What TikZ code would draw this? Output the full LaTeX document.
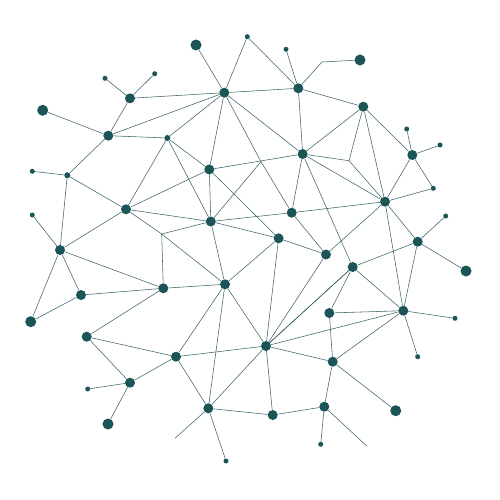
\documentclass[tikz,border=0pt]{standalone}
\usetikzlibrary{backgrounds}
\definecolor{nodecol}{HTML}{1B5557}
\definecolor{linecol}{HTML}{3E6466}
\tikzset{
  x=1pt, y=-1pt,
  dot/.style={circle, fill=nodecol, draw=none, inner sep=0pt, minimum size=10pt},
  bigdot/.style={dot, minimum size=11pt},
  tinydot/.style={dot, minimum size=5pt},
  smalldot/.style={dot, minimum size=6pt},
  link/.style={draw=linecol, line width=0.55pt},
}
\begin{document}
\begin{tikzpicture}
\useasboundingbox (0,0) rectangle (500,500);
\node[bigdot] (A) at (196,45) {};
\node[tinydot] (B) at (247.3,36.7) {};
\node[tinydot] (C) at (286,49.3) {};
\node[bigdot] (D) at (360,60) {};
\node[dot] (E) at (224.3,92.7) {};
\node[dot] (F) at (298.3,88.3) {};
\node[dot] (G) at (130,98.3) {};
\node[tinydot] (H) at (105,78.3) {};
\node[tinydot] (I) at (154.7,73.7) {};
\node[bigdot] (J) at (42.7,110.3) {};
\node[dot] (K) at (108.3,135.7) {};
\node[smalldot] (L) at (167.3,138) {};
\node[dot] (M) at (363.3,106.7) {};
\node[dot] (N) at (302.7,154) {};
\node[dot] (O) at (209.3,169.5) {};
\node[tinydot] (P) at (406.7,129) {};
\node[dot] (Q) at (412.3,155) {};
\node[tinydot] (R) at (440,145) {};
\node[tinydot] (S) at (433.3,188.3) {};
\node[dot] (T) at (385,201.7) {};
\node[tinydot] (U) at (32.3,171.3) {};
\node[smalldot] (V) at (67.3,175.3) {};
\node[dot] (W) at (126,209.3) {};
\node[dot] (X) at (210.8,221.5) {};
\node[dot] (Y) at (291.7,212.7) {};
\node[tinydot] (AB) at (32.3,215) {};
\node[dot] (AC) at (60,250) {};
\node[dot] (AD) at (278.6,238.3) {};
\node[dot] (AE) at (326,254.5) {};
\node[tinydot] (AF) at (445.7,216) {};
\node[dot] (AG) at (417.7,241.7) {};
\node[dot] (AH) at (352.7,267) {};
\node[bigdot] (AI) at (466,271) {};
\node[dot] (AJ) at (81,295) {};
\node[dot] (AK) at (163.3,288.3) {};
\node[dot] (AL) at (225,284.3) {};
\node[bigdot] (AM) at (30.7,321.7) {};
\node[dot] (AN) at (86.7,336.7) {};
\node[dot] (AO) at (329.3,313) {};
\node[dot] (AP) at (403.3,310.7) {};
\node[tinydot] (AQ) at (455,318.3) {};
\node[dot] (AR) at (176,356.7) {};
\node[dot] (AS) at (266,346) {};
\node[tinydot] (AT) at (417.7,356.7) {};
\node[dot] (AU) at (332.7,361.7) {};
\node[tinydot] (AV) at (87.7,389) {};
\node[dot] (AW) at (130,382.7) {};
\node[bigdot] (AX) at (108,424) {};
\node[dot] (AY) at (208.3,408.3) {};
\node[dot] (AZ) at (272.7,415) {};
\node[dot] (BA) at (324.3,406.7) {};
\node[bigdot] (BB) at (395.7,410.7) {};
\node[tinydot] (BC) at (226,461) {};
\node[tinydot] (BD) at (320.7,444.3) {};
\coordinate (J1) at (349,160.7);
\coordinate (J2) at (261,161.7);
\coordinate (J3) at (161.7,234);
\coordinate (bend) at (322,62);
\coordinate (free1) at (175,438.3);
\coordinate (free2) at (366.7,446);
\begin{scope}[on background layer]
\foreach \a/\b in {G/H, G/I, G/K, G/E, J/K, K/E, K/L, K/V, U/V, L/E, L/W, L/O, L/X,
  A/E, B/E, B/F, C/F, F/bend, bend/D, E/F, E/O, E/N, E/J2, J2/Y, J2/X,
  F/M, F/N, M/N, M/J1, J1/N, J1/T, M/T, M/Q, P/Q, R/Q, Q/S, Q/T,
  N/T, N/Y, N/AH, O/N, O/X, O/AD, O/W,
  T/S, T/Y, T/AE, T/AP, T/AG, AG/AF, AG/AI, AG/AP, AG/AH, AH/AP, AH/AO, AH/AS,
  V/W, V/AC, AB/AC, W/X, W/J3, J3/X, J3/AL, J3/AK, W/AC, AC/AK, AC/AJ, AC/AM,
  AM/AJ, AJ/AK, AK/AL, AK/AN, AN/AR, AN/AW, AV/AW, AW/AX, AW/AR,
  AR/AL, AR/AS, AR/AY, AY/free1, AY/BC, AY/AZ, AY/AS, AY/AL, AL/AS,
  AS/AD, AS/AE, AS/AH, AS/AP, AO/AU, AS/AU, AS/AZ, AZ/BA, BA/BD, BA/AU, BA/free2,
  AU/BB, AO/AP, AP/AQ, AP/AT, AP/AU, X/Y, X/AD, X/AL, AD/AL, AD/AE, Y/AE}
  \path[link] (\a) -- (\b);
\end{scope}
\end{tikzpicture}
\end{document}
